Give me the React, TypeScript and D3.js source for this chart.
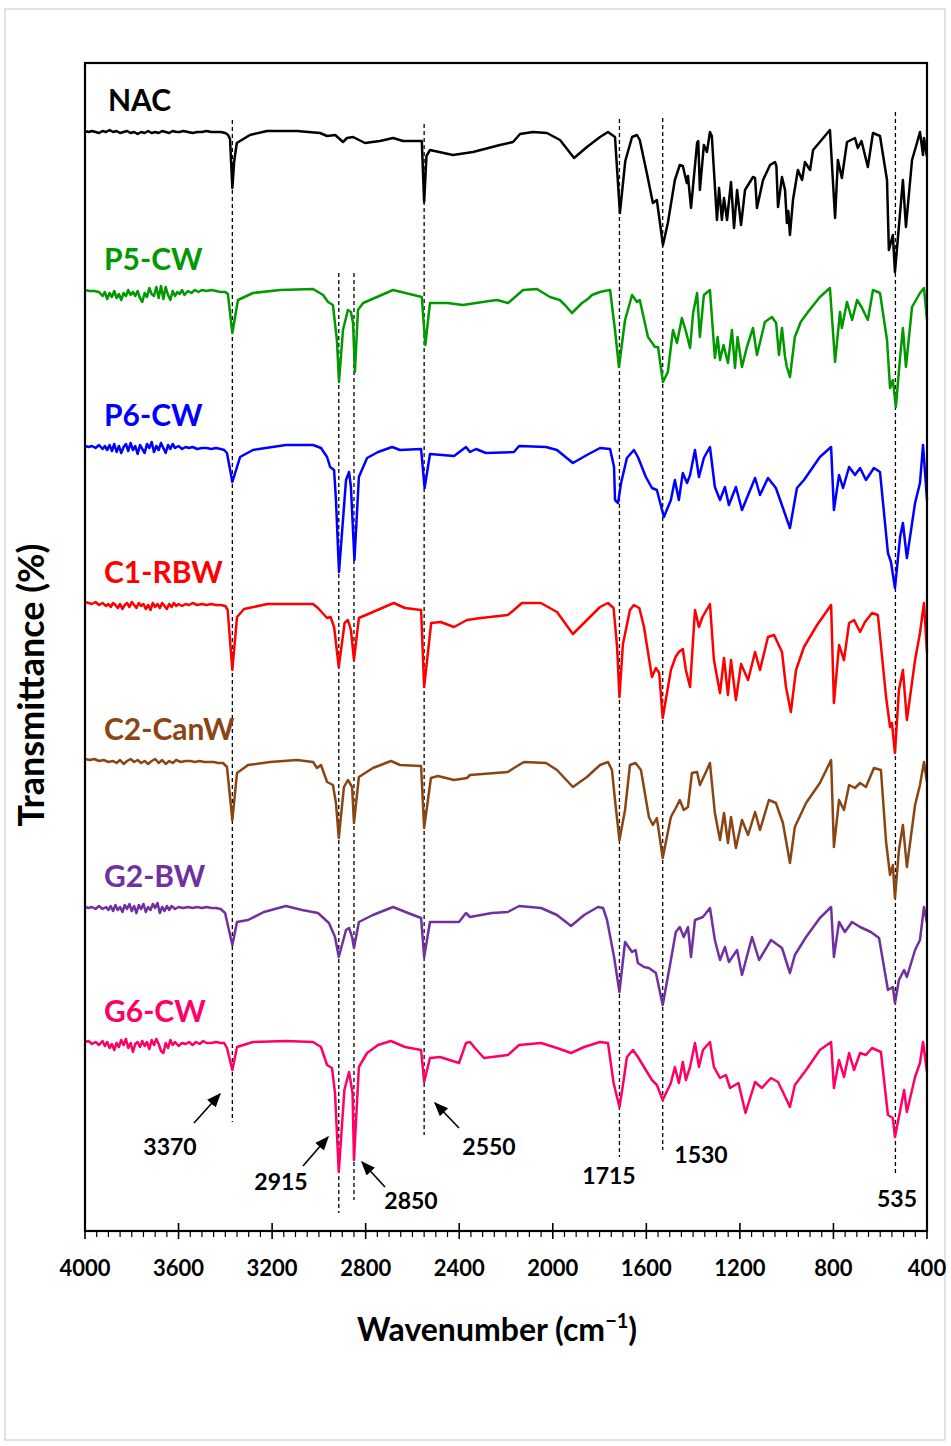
import React from 'react';
import * as d3 from 'd3';

// wavenumber (cm-1) vs relative transmittance (a.u., 0 = local baseline)
const NAC: [number, number][] = [
  [4000, 0], [3985, -1], [3970, 0], [3955, -1], [3940, -2], [3925, 0], [3910, -1], [3895, 1], [3880, -1], [3865, 0],
  [3850, -2], [3835, -1], [3820, 0], [3805, -2], [3790, -1], [3775, -3], [3760, -1], [3745, -2], [3730, 0], [3715, -2],
  [3700, -1], [3685, -2], [3670, 0], [3655, -1], [3640, -2], [3625, 0], [3610, -1], [3595, -1], [3580, 0], [3560, -1],
  [3540, -2], [3520, -1], [3500, -1], [3480, 0], [3460, -1], [3440, -1], [3420, -1], [3400, -2], [3388, -4],
  [3380, -8], [3370, -57], [3362, -30], [3351, -12], [3295, -4], [3222, 0], [3094, 0], [2995, -2],
  [2965, -5], [2930, -4], [2897, -11], [2880, -7], [2854, -6], [2803, -12], [2739, -10], [2683, -7], [2640, -10],
  [2560, -10], [2550, -71], [2540, -25], [2525, -19], [2427, -24], [2341, -21], [2226, -14], [2170, -11], [2140, -3],
  [2085, -1], [2025, -2], [1969, -9], [1909, -27], [1854, -16], [1798, -6], [1764, -1], [1734, -6], [1713, -82],
  [1690, -30], [1661, -6], [1640, -4], [1628, -9], [1598, -42], [1572, -72], [1555, -69], [1529, -114], [1508, -92],
  [1478, -49], [1457, -34], [1444, -35], [1427, -52], [1422, -45], [1409, -77], [1383, -12], [1378, -10], [1371, -59],
  [1354, -14], [1341, -21], [1328, -1], [1320, -5], [1298, -89], [1289, -57], [1277, -89], [1268, -67], [1255, -89],
  [1238, -51], [1225, -97], [1212, -59], [1195, -94], [1178, -59], [1144, -46], [1135, -47], [1127, -77], [1101, -49],
  [1071, -34], [1050, -31], [1044, -35], [1037, -76], [1020, -46], [1007, -59], [999, -92], [993, -80], [986, -104],
  [973, -69], [952, -39], [934, -49], [922, -31], [900, -39], [887, -19], [815, 1], [793, -87], [781, -29], [764, -47],
  [742, -11], [708, -7], [696, -17], [680, -10], [653, -36], [631, -2], [601, -5], [571, -49], [563, -119], [546, -104],
  [537, -141], [503, -49], [490, -96], [464, -29], [443, -12], [430, -1], [417, -24], [413, -7], [400, -26],
];

const P5CW: [number, number][] = [
  [4000, 0], [3980, -1], [3960, -1], [3940, -2], [3925, -6], [3915, -2], [3905, -9], [3895, -3], [3885, -7],
  [3875, -1], [3865, -8], [3855, -4], [3845, -10], [3835, -3], [3825, -6], [3815, 0], [3805, -5], [3795, -2],
  [3785, -6], [3775, -1], [3765, -8], [3755, -12], [3745, -3], [3735, -7], [3725, 2], [3715, -4], [3705, -6],
  [3695, 3], [3685, -8], [3675, 4], [3665, -9], [3655, 3], [3645, -5], [3635, -10], [3625, -1], [3615, -6],
  [3605, -2], [3595, -4], [3585, 0], [3575, -5], [3560, -1], [3545, -3], [3530, 0], [3515, -2], [3500, 0],
  [3480, -1], [3460, 0], [3440, -1], [3420, -2], [3400, -2], [3389, -4], [3370, -43], [3346, -10], [3282, -3],
  [3166, 0], [3025, 1], [2982, -5], [2961, -12], [2940, -15], [2923, -50], [2914, -92], [2897, -40], [2876, -20],
  [2863, -22], [2854, -33], [2846, -82], [2833, -20], [2811, -13], [2683, 0], [2560, -7], [2545, -55], [2525, -13],
  [2450, -13], [2384, -15], [2300, -12], [2239, -10], [2191, -13], [2127, 0], [2068, 1], [2012, -7], [1970, -10],
  [1948, -15], [1918, -23], [1875, -13], [1850, -9], [1832, -5], [1810, -3], [1798, -2], [1780, -1], [1755, 0],
  [1734, -40], [1717, -77], [1691, -30], [1661, -5], [1640, -12], [1628, -10], [1593, -47],
  [1563, -57], [1550, -57], [1529, -92], [1508, -82], [1486, -40], [1469, -53], [1448, -28], [1430, -42], [1413, -58],
  [1400, -23], [1383, -3], [1371, -47], [1354, -5], [1328, 0], [1307, -68], [1295, -47], [1285, -70], [1270, -55],
  [1251, -73], [1234, -40], [1221, -78], [1210, -47], [1191, -77], [1170, -57], [1144, -38], [1127, -65], [1093, -32],
  [1063, -27], [1045, -33], [1033, -65], [1020, -38], [1007, -67], [999, -77], [986, -87], [965, -47], [940, -32],
  [909, -22], [858, -7], [815, 2], [793, -72], [772, -22], [764, -38], [742, -12], [720, -30], [699, -10], [680, -17],
  [653, -30], [631, 0], [601, -3], [571, -50], [558, -98], [546, -90], [533, -117], [515, -67], [503, -38], [490, -77],
  [464, -17], [430, -3], [413, 2], [400, -30],
];

const P6CW: [number, number][] = [
  [4000, 0], [3985, -1], [3970, 0], [3955, -2], [3940, 1], [3925, -3], [3915, 0], [3905, -4], [3895, 1], [3885, -5],
  [3875, 2], [3865, -6], [3855, 0], [3845, -7], [3835, -1], [3825, 2], [3815, -5], [3805, 3], [3795, -4], [3785, 0],
  [3775, -8], [3765, 1], [3755, -3], [3745, -7], [3735, 2], [3725, -2], [3715, 4], [3705, -6], [3695, 0], [3685, -4],
  [3675, 3], [3665, -2], [3655, -7], [3645, 1], [3635, -3], [3625, 2], [3615, -2], [3600, 0], [3585, -3], [3570, -1],
  [3555, -2], [3540, -1], [3520, -3], [3500, -2], [3480, -2], [3460, -3], [3440, -2], [3420, -3], [3405, -4],
  [3393, -7], [3370, -36], [3337, -11], [3282, -4], [3141, 1], [3025, 1], [2991, -2], [2965, -11], [2952, -21],
  [2935, -24], [2927, -54], [2914, -126], [2884, -34], [2871, -26], [2863, -41], [2848, -114], [2829, -31], [2794, -12],
  [2747, -6], [2687, -1], [2653, -4], [2563, -3], [2548, -42], [2525, -8], [2422, -10], [2371, -1], [2354, -6],
  [2328, -3], [2286, -7], [2166, -6], [2144, 0], [2029, -1], [1982, -4], [1914, -17], [1854, -9], [1798, -2],
  [1755, -3], [1738, -21], [1734, -54], [1721, -57], [1708, -37], [1683, -12], [1653, -4], [1636, -11], [1602, -31],
  [1576, -42], [1555, -44], [1525, -71], [1495, -54], [1478, -34], [1461, -54], [1444, -27], [1426, -37], [1413, -29],
  [1392, -4], [1375, -31], [1354, -12], [1328, -1], [1307, -41], [1285, -54], [1264, -41], [1247, -59], [1217, -41],
  [1191, -64], [1135, -32], [1114, -49], [1080, -32], [1046, -42], [1016, -62], [986, -82], [956, -42], [926, -34],
  [858, -11], [810, -1], [798, -64], [776, -29], [759, -42], [733, -21], [708, -29], [686, -22], [661, -34], [627, -22],
  [601, -26], [567, -107], [554, -116], [537, -142], [515, -91], [503, -77], [486, -112], [451, -57], [430, -37],
  [417, 1], [400, -54],
];

const C1RBW: [number, number][] = [
  [4000, 1], [3985, 0], [3970, -1], [3955, 1], [3940, -2], [3925, 0], [3910, -3], [3900, -1], [3890, -4], [3880, 0],
  [3870, -2], [3860, -5], [3850, -1], [3840, -6], [3830, -2], [3820, 0], [3810, -4], [3800, 1], [3790, -2], [3780, -5],
  [3770, 0], [3760, -3], [3750, -1], [3740, -6], [3730, -2], [3720, -7], [3710, 0], [3700, -4], [3690, -1], [3680, -5],
  [3670, 0], [3660, -3], [3650, -6], [3640, -1], [3630, -4], [3620, 0], [3610, -3], [3600, -1], [3585, -3], [3570, -1],
  [3555, -2], [3540, 0], [3520, -2], [3500, -1], [3480, -2], [3460, -1], [3440, -2], [3420, -2], [3400, -3],
  [3390, -7], [3370, -67], [3350, -14], [3320, -6], [3220, -1], [3025, -1], [3004, -5], [2965, -15], [2950, -14],
  [2935, -24], [2915, -64], [2890, -20], [2876, -17], [2863, -27], [2850, -57], [2829, -15], [2769, -9], [2700, -2],
  [2680, 0], [2632, -5], [2563, -7], [2550, -84], [2520, -20], [2480, -19], [2422, -24], [2367, -17], [2307, -15],
  [2192, -12], [2166, -7], [2132, 0], [2051, 0], [1982, -9], [1914, -31], [1854, -17], [1798, -4], [1764, 0],
  [1740, -5], [1725, -44], [1715, -94], [1700, -41], [1670, -7], [1653, -2], [1630, -5], [1610, -24], [1576, -74],
  [1559, -65], [1545, -70], [1530, -115], [1495, -67], [1475, -54], [1461, -49], [1444, -46], [1431, -67], [1413, -84],
  [1392, -7], [1375, -24], [1360, -14], [1328, -1], [1311, -57], [1285, -90], [1268, -55], [1251, -92], [1238, -57],
  [1217, -97], [1195, -61], [1165, -77], [1135, -49], [1114, -67], [1080, -34], [1054, -32], [1020, -49], [1003, -84],
  [982, -109], [960, -67], [926, -44], [870, -22], [810, -2], [798, -100], [776, -42], [755, -57], [733, -20],
  [712, -17], [686, -29], [665, -19], [635, -10], [610, -12], [575, -94], [558, -124], [550, -120], [537, -150],
  [520, -87], [503, -67], [486, -117], [451, -57], [430, -30], [413, 0], [400, -49],
];

const C2CanW: [number, number][] = [
  [4000, 1], [3980, 0], [3960, 1], [3940, -1], [3920, 0], [3900, -2], [3880, -1], [3865, -3], [3850, 0], [3835, -4],
  [3820, -1], [3805, 1], [3790, -2], [3775, 0], [3760, -3], [3745, -1], [3730, -4], [3715, -1], [3700, 1], [3685, -3],
  [3670, 0], [3655, -4], [3640, -1], [3625, -3], [3610, 0], [3590, -2], [3570, -1], [3550, -1], [3530, -2], [3510, -1],
  [3490, -2], [3470, -2], [3450, -2], [3430, -3], [3410, -3], [3393, -7],
  [3370, -60], [3350, -13], [3303, -5], [3209, -2], [3094, 0], [3025, -2], [3008, -8], [2991, -5], [2965, -22],
  [2940, -25], [2927, -43], [2915, -78], [2893, -27], [2876, -20], [2858, -27], [2850, -63], [2829, -17], [2769, -8],
  [2692, -1], [2653, -5], [2563, -6], [2550, -68], [2521, -18], [2491, -16], [2422, -20], [2367, -18], [2354, -15],
  [2192, -12], [2166, -8], [2123, -2], [2029, -3], [1982, -10], [1914, -27], [1854, -17], [1798, -5], [1764, -2],
  [1747, -10], [1734, -40], [1715, -80], [1691, -50], [1670, -5], [1646, -3], [1623, -10], [1589, -57], [1572, -65],
  [1555, -58], [1530, -98], [1495, -57], [1474, -48], [1457, -40], [1440, -50], [1422, -47], [1405, -13], [1383, -12],
  [1371, -25], [1345, -12], [1328, -3], [1307, -53], [1285, -80], [1268, -53], [1251, -83], [1238, -57], [1217, -88],
  [1191, -60], [1165, -75], [1135, -52], [1114, -70], [1076, -40], [1046, -43], [1016, -63], [986, -103], [965, -67],
  [917, -43], [858, -23], [810, 0], [798, -87], [776, -40], [755, -50], [733, -25], [708, -28], [686, -23], [661, -27],
  [627, -8], [597, -10], [575, -82], [558, -115], [546, -105], [537, -138], [520, -90], [503, -65], [486, -107],
  [451, -45], [430, -25], [413, -2], [400, -22],
];

const G2BW: [number, number][] = [
  [4000, 0], [3985, -1], [3970, 0], [3955, -2], [3940, 1], [3925, -2], [3910, 0], [3900, -3], [3890, 1], [3880, -4],
  [3870, 2], [3860, -3], [3850, 0], [3840, -5], [3830, 2], [3820, -2], [3810, 3], [3800, -4], [3790, 1], [3780, -6],
  [3770, 2], [3760, -2], [3750, 3], [3740, -5], [3730, 0], [3720, -3], [3710, 3], [3700, -1], [3690, 4], [3680, -6],
  [3670, 0], [3660, -4], [3650, 1], [3640, -3], [3630, 1], [3615, -2], [3600, 0], [3580, -1], [3560, 0], [3540, -1],
  [3520, 0], [3500, -1], [3480, 0], [3460, -1], [3440, -1], [3420, -2], [3401, -6], [3370, -38], [3350, -15],
  [3303, -13], [3235, -5], [3141, 1], [3072, -3], [3004, -6], [2957, -16],
  [2931, -30], [2915, -50], [2884, -23], [2871, -21], [2858, -30], [2850, -41], [2829, -15], [2769, -8], [2683, 0],
  [2619, -6], [2563, -11], [2550, -50], [2525, -15], [2401, -15], [2371, -6], [2354, -10], [2260, -6], [2192, -5],
  [2144, 1], [2050, -1], [1982, -8], [1922, -19], [1866, -8], [1807, 0], [1785, -1], [1768, -13], [1738, -50],
  [1715, -85], [1691, -35], [1661, -45], [1646, -43], [1636, -56], [1610, -60], [1589, -61], [1559, -66], [1530, -98],
  [1495, -53], [1474, -25], [1457, -20], [1440, -30], [1422, -20], [1409, -50], [1392, -13], [1358, -10], [1328, -1],
  [1307, -33], [1285, -53], [1264, -40], [1247, -55], [1212, -43], [1191, -68], [1148, -30], [1118, -53], [1067, -33],
  [1020, -41], [986, -66], [965, -48], [917, -30], [858, -11], [810, 0], [798, -50], [776, -15], [751, -25],
  [721, -15], [686, -20], [640, -25], [605, -31], [567, -83], [546, -80], [537, -96], [520, -73], [498, -63],
  [486, -70], [451, -43], [430, -33], [413, 0], [400, -16],
];

const G6CW: [number, number][] = [
  [4000, 0], [3985, 1], [3970, -2], [3955, 0], [3940, -3], [3925, 1], [3915, -4], [3905, 0], [3895, -6], [3885, -2],
  [3875, -8], [3865, -1], [3855, -5], [3845, 2], [3835, -3], [3825, 3], [3815, -6], [3805, -1], [3795, -10],
  [3785, -2], [3775, 0], [3765, -5], [3755, 1], [3745, -4], [3735, 0], [3725, -7], [3715, 2], [3705, -3], [3695, 3],
  [3685, -2], [3675, -9], [3665, -11], [3655, -1], [3645, -6], [3635, 2], [3625, -3], [3615, 0], [3600, -4],
  [3585, -1], [3570, -2], [3555, 0], [3540, -3], [3525, 0], [3510, -2], [3495, 1], [3480, -1], [3460, -1], [3440, 0],
  [3420, -1], [3405, -1], [3393, -6], [3370, -28], [3350, -5], [3282, 0], [3141, 1], [3025, 0], [2991, -5], [2965, -23],
  [2944, -26], [2931, -51], [2915, -130], [2891, -48], [2871, -30], [2856, -51], [2850, -118], [2829, -25],
  [2794, -11], [2747, -3], [2692, 1], [2632, -5], [2563, -8], [2550, -40], [2525, -16], [2482, -15], [2401, -21],
  [2371, -1], [2354, 0], [2333, -6], [2294, -16], [2192, -13], [2144, -3], [2050, -1], [1982, -6], [1922, -11],
  [1866, -5], [1798, 0], [1764, -1], [1740, -41], [1715, -65], [1700, -43], [1683, -15], [1657, -8], [1636, -15],
  [1610, -25], [1576, -38], [1555, -43], [1530, -58], [1495, -41], [1478, -25], [1461, -41], [1444, -20], [1431, -38],
  [1413, -25], [1392, -1], [1375, -25], [1358, -8], [1328, 0], [1311, -25], [1285, -36], [1260, -33], [1242, -46],
  [1206, -41], [1176, -71], [1135, -40], [1106, -46], [1067, -36], [1037, -40], [1016, -50], [986, -65], [965, -43],
  [917, -28], [858, -8], [810, 0], [798, -46], [776, -18], [755, -35], [733, -11], [712, -28], [686, -11], [661, -13],
  [635, -6], [597, -10], [567, -73], [546, -76], [537, -95], [520, -75], [498, -48], [486, -70], [451, -35],
  [430, -21], [417, 0], [400, -30],
];

const seriesNames = ['NAC', 'P5-CW', 'P6-CW', 'C1-RBW', 'C2-CanW', 'G2-BW', 'G6-CW'];
const seriesData = [NAC, P5CW, P6CW, C1RBW, C2CanW, G2BW, G6CW];
const seriesOffsets = [1100, 941, 785, 628, 471, 324, 189];
const seriesColors = ['#000000', '#009900', '#0000ff', '#ff0000', '#8b4513', '#7030a0', '#ff0066'];

const xTicks = [4000, 3600, 3200, 2800, 2400, 2000, 1600, 1200, 800, 400];
const peakWavenumbers = [3370, 2915, 2850, 2550, 1715, 1530, 535];

const W = 951;
const H = 1446;
const M = { left: 85, right: 927, top: 63, bottom: 1231 };

// dashed marker line extents (px)
const peakLineExtent: Record<number, [number, number]> = {
  3370: [120, 1122], 2915: [273, 1213], 2850: [273, 1200], 2550: [124, 1135],
  1715: [119, 1157], 1530: [118, 1150], 535: [112, 1175],
};

// annotation text positions and arrows (px)
const annotations = [
  { text: '3370', x: 170, y: 1147, arrow: [194, 1123, 220, 1094] },
  { text: '2915', x: 281, y: 1182, arrow: [303, 1166, 328, 1137] },
  { text: '2850', x: 411, y: 1201, arrow: [385, 1187, 362, 1162] },
  { text: '2550', x: 489, y: 1147, arrow: [459, 1128, 435, 1103] },
  { text: '1715', x: 609, y: 1176, arrow: null },
  { text: '1530', x: 701, y: 1155, arrow: null },
  { text: '535', x: 897, y: 1199, arrow: null },
];

const FONT = 'Lato, Carlito, Calibri, sans-serif';

export default function App() {
  const x = d3.scaleLinear().domain([4000, 400]).range([M.left, M.right]);
  const y = d3.scaleLinear().domain([0, M.bottom - M.top]).range([M.bottom, M.top]);

  const minorTicks = d3.range(4000, 399, -50).filter((t) => t % 400 !== 0);

  return (
    <svg width={W} height={H} style={{ position: 'absolute', left: 0, top: 0, background: '#fff' }}>
      <defs>
        <marker id="arr" viewBox="0 0 10 10" refX="9" refY="5" markerWidth="9" markerHeight="9" orient="auto">
          <path d="M0,1 L10,5 L0,9 z" fill="#000" />
        </marker>
      </defs>
      <rect x={5} y={9} width={940} height={1431} fill="none" stroke="#d9d9d9" strokeWidth={1.5} />

      {peakWavenumbers.map((p) => (
        <line key={p} x1={x(p)} x2={x(p)} y1={peakLineExtent[p][0]} y2={peakLineExtent[p][1]}
          stroke="#000" strokeWidth={1.3} strokeDasharray="4,3" />
      ))}

      {seriesData.map((d, i) => {
        const line = d3.line<[number, number]>()
          .x((p) => x(p[0]))
          .y((p) => y(p[1] + seriesOffsets[i]));
        return (
          <path key={seriesNames[i]} d={line(d) || ''} fill="none" stroke={seriesColors[i]}
            strokeWidth={2.5} strokeLinejoin="round" />
        );
      })}

      {seriesNames.map((n, i) => (
        <text key={n} x={i === 0 ? 108 : 104} y={y(seriesOffsets[i]) - 20} fill={seriesColors[i]} fontFamily={FONT}
          fontWeight="bold" fontSize={30}>{n}</text>
      ))}

      {annotations.map((a) => (
        <g key={a.text}>
          <text x={a.x} y={a.y + 8} textAnchor="middle" fontFamily={FONT} fontWeight="bold" fontSize={23}>{a.text}</text>
          {a.arrow && (
            <line x1={a.arrow[0]} y1={a.arrow[1]} x2={a.arrow[2]} y2={a.arrow[3]} stroke="#000"
              strokeWidth={1.6} markerEnd="url(#arr)" />
          )}
        </g>
      ))}

      <rect x={M.left} y={M.top} width={M.right - M.left} height={M.bottom - M.top} fill="none"
        stroke="#000" strokeWidth={2.2} />

      {minorTicks.map((t) => (
        <line key={'m' + t} x1={x(t)} x2={x(t)} y1={M.bottom} y2={M.bottom + 6} stroke="#000" strokeWidth={1.2} />
      ))}
      {xTicks.map((t) => (
        <g key={t}>
          <line x1={x(t)} x2={x(t)} y1={M.bottom - 8} y2={M.bottom + 8} stroke="#000" strokeWidth={1.6} />
          <text x={x(t)} y={M.bottom + 45} textAnchor="middle" fontFamily={FONT} fontWeight="bold" fontSize={22}>{t}</text>
        </g>
      ))}

      <text x={497} y={1341} textAnchor="middle" fontFamily={FONT} fontWeight="bold" fontSize={32}>
        Wavenumber (cm<tspan fontSize={20} dy={-13}>−1</tspan><tspan dy={13}>)</tspan>
      </text>
      <text transform="translate(44,685) rotate(-90)" textAnchor="middle" fontFamily={FONT} fontWeight="bold"
        fontSize={36}>Transmittance (%)</text>
    </svg>
  );
}
